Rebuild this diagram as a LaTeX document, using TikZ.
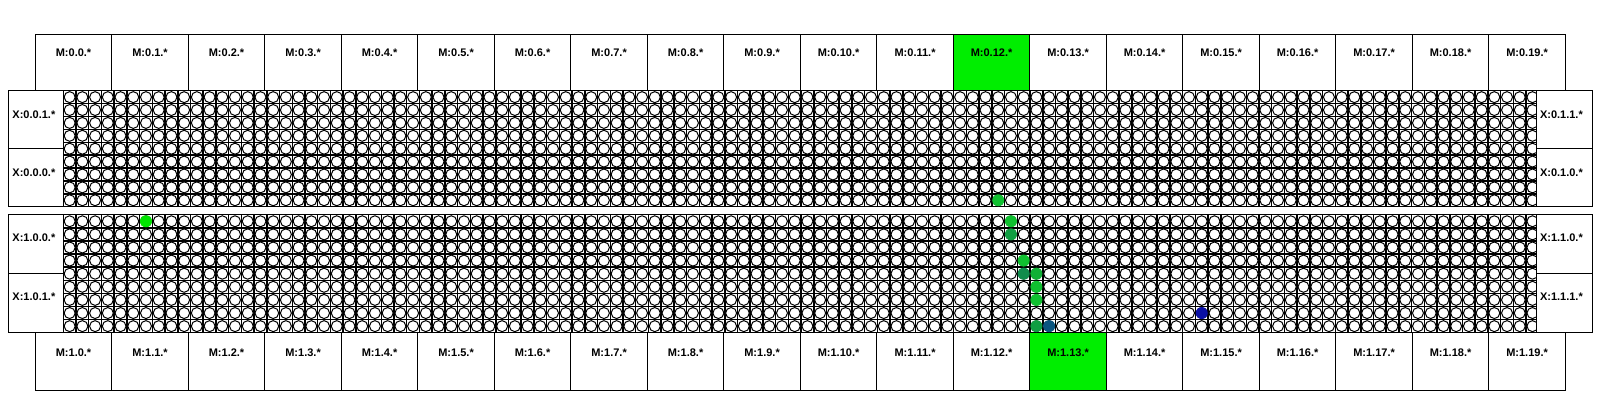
\documentclass[tikz,border=0pt]{standalone}
\usepackage{fontspec}
\setmainfont{Liberation Sans}
\definecolor{mgreen}{RGB}{0,238,0}
\definecolor{cA}{RGB}{16,192,48}
\definecolor{cB}{RGB}{0,228,0}
\definecolor{cC}{RGB}{16,158,66}
\definecolor{cD}{RGB}{16,140,76}
\definecolor{cE}{RGB}{16,176,54}
\definecolor{cTeal}{RGB}{10,85,128}
\definecolor{cBlue}{RGB}{10,16,165}
\begin{document}
\begin{tikzpicture}[x=1pt,y=-1pt,line width=1pt,
  lbl/.style={font=\bfseries\fontsize{11}{13}\selectfont, inner sep=0pt},
  gridline/.style={line width=1.5pt},
  cell/.style={draw=black, fill=white, line width=1pt},
  panel/.style={draw=black, line width=1pt}]
\useasboundingbox (0,0) rectangle (1600,400);
\fill[white] (0,0) rectangle (1600,400);
% green M boxes
\fill[mgreen] (35.3+12*76.5,34) rectangle (35.3+13*76.5,90.7);
\fill[mgreen] (35.3+13*76.5,332.7) rectangle (35.3+14*76.5,390);
% M boxes
\foreach \i in {0,...,19} {
  \pgfmathsetmacro\xa{35.3+\i*76.5}
  \pgfmathsetmacro\xb{\xa+76.5}
  \pgfmathsetmacro\xc{\xa+38.25}
  \draw[panel] (\xa,34) rectangle (\xb,90.7);
  \node[lbl,anchor=base] (mt\i) at (\xc,56.6) {M:0.\i.*};
  \draw[panel] (\xb,332.7) -- (\xb,390) -- (\xa,390) -- (\xa,332.7);
  \node[lbl,anchor=base] (mb\i) at (\xc,356.0) {M:1.\i.*};
}
% grid panels
\foreach \top/\bot in {90.7/206.7, 214.7/332.7} {
  \begin{scope}
    \clip (63.3,\top) rectangle (1536.7,\bot);
    \pgfmathsetmacro\hh{(\bot-\top)/9}
    \foreach \c in {0,...,116} {
      \draw[gridline] (63.3+\c*12.72,\top) -- (63.3+\c*12.72,\bot);
    }
    \foreach \r in {0,...,9} {
      \draw[gridline] (63.3,\top+\r*\hh) -- (1536.7,\top+\r*\hh);
    }
    \foreach \r in {0,...,8} {
      \foreach \c in {0,...,115} {
        \draw[cell] (63.3+\c*12.72+6.36,\top+\r*\hh+\hh/2) circle[radius=5.5pt];
      }
    }
  \end{scope}
  \draw[panel] (63.3,\top) rectangle (1536.7,\bot);
}
% X boxes
\draw[panel] (8,90.7) rectangle (63.3,148.7);
\draw[panel] (8,148.7) rectangle (63.3,206.7);
\draw[panel] (8,214.7) rectangle (63.3,273.7);
\draw[panel] (8,273.7) rectangle (63.3,332.7);
\draw[panel] (1536.7,90.7) rectangle (1592.7,148.7);
\draw[panel] (1536.7,148.7) rectangle (1592.7,206.7);
\draw[panel] (1536.7,214.7) rectangle (1592.7,273.7);
\draw[panel] (1536.7,273.7) rectangle (1592.7,332.7);
\node[lbl,anchor=base west] (xl1) at (12.0,118.0) {X:0.0.1.*};
\node[lbl,anchor=base west] (xl2) at (12.0,176.0) {X:0.0.0.*};
\node[lbl,anchor=base west] (xl3) at (12.0,241.5) {X:1.0.0.*};
\node[lbl,anchor=base west] (xl4) at (12.0,300.5) {X:1.0.1.*};
\node[lbl,anchor=base west] (xr1) at (1539.5,118.0) {X:0.1.1.*};
\node[lbl,anchor=base west] (xr2) at (1539.5,176.0) {X:0.1.0.*};
\node[lbl,anchor=base west] (xr3) at (1539.5,241.5) {X:1.1.0.*};
\node[lbl,anchor=base west] (xr4) at (1539.5,300.5) {X:1.1.1.*};
% highlighted routers
\foreach \p/\r/\c/\col in {0/8/73/cA, 1/0/6/cB, 1/0/74/cA, 1/1/74/cC, 1/3/75/cA,
  1/4/75/cD, 1/4/76/cE, 1/5/76/cA, 1/6/76/cA, 1/8/76/cC, 1/8/77/cTeal, 1/7/89/cBlue} {
  \pgfmathsetmacro\yy{\p==0 ? 90.7+(\r+0.5)*12.889 : 214.7+(\r+0.5)*13.111}
  \pgfmathsetmacro\xx{63.3+(\c+0.5)*12.72}
  \fill[\col] (\xx,\yy) circle[radius=6.0pt];
}
\end{tikzpicture}
\end{document}
